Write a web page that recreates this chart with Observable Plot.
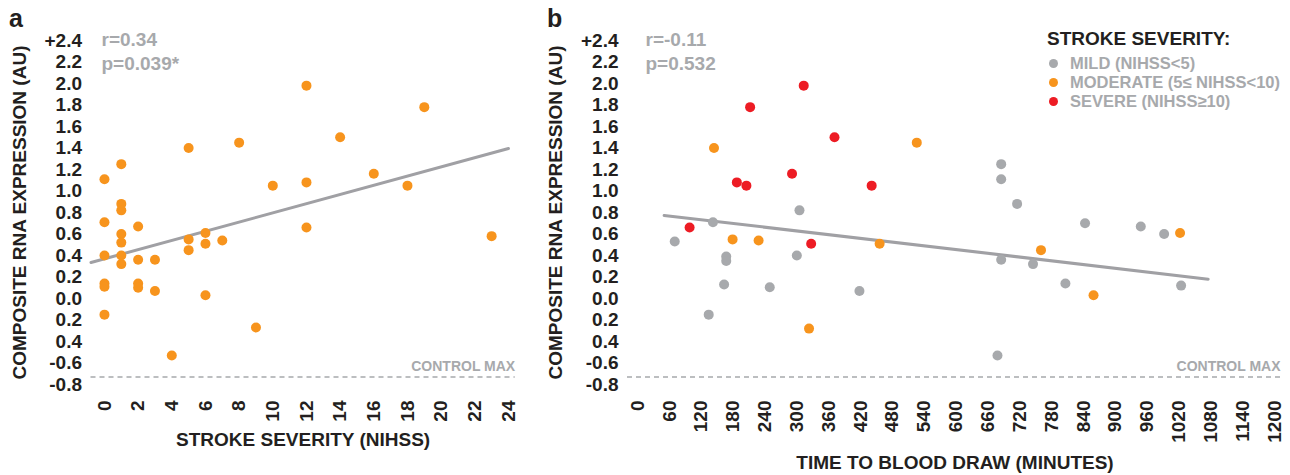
<!DOCTYPE html>
<html><head><meta charset="utf-8">
<script src="https://cdn.jsdelivr.net/npm/d3@7"></script>
<script src="https://cdn.jsdelivr.net/npm/@observablehq/plot@0.6"></script>
<style>
body{margin:0;background:#fff;font-family:"Liberation Sans",Arial,sans-serif;}
#wrap{position:relative;width:1290px;height:475px;overflow:hidden;}
#left{position:absolute;left:0;top:0;}
#right{position:absolute;left:545px;top:0;}
.letter{position:absolute;font-weight:bold;font-size:25px;line-height:1;color:#231F20;}
#legend{position:absolute;left:1047px;top:29px;font-weight:bold;color:#A7A9AC;}
#legend .ttl{font-size:19px;color:#231F20;line-height:20px;margin-bottom:5px;}
#legend .row{display:flex;align-items:center;font-size:16.5px;line-height:19px;height:19px;}
#legend .sw{width:9px;height:9px;border-radius:50%;margin-left:2px;margin-right:12px;}
</style></head><body>
<div id="wrap">
  <div id="left"></div>
  <div id="right"></div>
</div>
<script>
// ---------- shared y-axis ----------
const yTickValues = [-0.8,-0.6,-0.4,-0.2,0,0.2,0.4,0.6,0.8,1.0,1.2,1.4,1.6,1.8,2.0,2.2,2.4];
const yTickLabels = ["-0.8","-0.6","0.4","0.2","0.0","0.2","0.4","0.6","0.8","1.0","1.2","1.4","1.6","1.8","2.0","2.2","+2.4"];
const yTitle = "COMPOSITE RNA EXPRESSION (AU)";
const controlMax = -0.73;
const controlLabel = "CONTROL MAX";

// ---------- panel a ----------
const panelA = "a";
const xTicksA = [0,2,4,6,8,10,12,14,16,18,20,22,24];
const xTitleA = "STROKE SEVERITY (NIHSS)";
const nihss = [0,0,0,0,0,0, 1,1,1,1,1,1,1, 2,2,2,2, 3,3, 4, 5,5,5, 6,6,6, 7, 8, 9, 10, 12,12,12, 14, 16, 18, 19, 23];
const exprA = [1.11,0.71,0.40,0.14,0.11,-0.15, 1.25,0.88,0.82,0.60,0.52,0.40,0.32, 0.67,0.36,0.14,0.10, 0.36,0.07, -0.53, 1.40,0.55,0.45, 0.61,0.51,0.03, 0.54, 1.45, -0.27, 1.05, 1.98,1.08,0.66, 1.50, 1.16, 1.05, 1.78, 0.58];
const trendAx = [-0.8, 24];
const trendAy = [0.335, 1.395];
const statsA = ["r=0.34", "p=0.039*"];

// ---------- panel b ----------
const panelB = "b";
const xTicksB = [0,60,120,180,240,300,360,420,480,540,600,660,720,780,840,900,960,1020,1080,1140,1200];
const xTitleB = "TIME TO BLOOD DRAW (MINUTES)";
const minutes = [70,134,142,163,167,167,249,300,305,418,678,685,685,685,715,745,806,843,948,992,1024,
                 144,179,228,323,456,526,760,859,1022,
                 98,187,205,212,291,313,327,371,441];
const exprB = [0.53,-0.15,0.71,0.13,0.39,0.35,0.105,0.40,0.82,0.07,-0.53,1.25,1.11,0.36,0.88,0.32,0.14,0.70,0.67,0.60,0.12,
               1.40,0.55,0.54,-0.28,0.51,1.45,0.45,0.03,0.61,
               0.66,1.08,1.05,1.78,1.16,1.98,0.51,1.50,1.05];
const severity = [..."mmmmmmmmmmmmmmmmmmmmm"].map(()=>"MILD")
  .concat([..."ooooooooo"].map(()=>"MODERATE"))
  .concat([..."sssssssss"].map(()=>"SEVERE"));
const trendBx = [50, 1075];
const trendBy = [0.773, 0.18];
const statsB = ["r=-0.11", "p=0.532"];

// ---------- legend ----------
const legendTitle = "STROKE SEVERITY:";
const severityKeys = ["MILD","MODERATE","SEVERE"];
const severityLabels = ["MILD (NIHSS<5)","MODERATE (5\u2264 NIHSS<10)","SEVERE (NIHSS\u226510)"];
const severityColors = ["#A7A9AC","#F7941D","#ED1C24"];

const GREY_TXT = "#A7A9AC";
const LINE_GREY = "#A0A0A4";
const DASH_GREY = "#BCBEC0";

const yLabelMap = new Map(yTickValues.map((v,i)=>[v.toFixed(1), yTickLabels[i]]));
const baseStyle = {fontFamily:"'Liberation Sans', Arial, sans-serif", fontSize:"19px", fontWeight:"bold", color:"#231F20", background:"transparent", overflow:"visible"};

function yAxisOpts(offset){
  return {domain:[-0.8,2.4], ticks:yTickValues, tickFormat:d=>yLabelMap.get((+d).toFixed(1)),
          tickSize:0, tickPadding:9, label:yTitle, labelAnchor:"center", labelOffset:offset, labelArrow:"none"};
}

const rowsA = nihss.map((x,i)=>({x, y:exprA[i]}));
const trendA = trendAx.map((x,i)=>({x, y:trendAy[i]}));
const plotA = Plot.plot({
  width:545, height:475,
  marginLeft:90.5, marginRight:30.3, marginTop:40, marginBottom:91,
  style:baseStyle,
  x:{domain:[-0.8,24.4], ticks:xTicksA, tickFormat:d=>String(d), tickRotate:-90, tickSize:0, tickPadding:16,
     label:xTitleA, labelAnchor:"center", labelOffset:61, labelArrow:"none"},
  y:yAxisOpts(78.5),
  marks:[
    Plot.ruleY([controlMax], {stroke:DASH_GREY, strokeWidth:2, strokeDasharray:"5,4"}),
    Plot.text([controlMax], {y:d=>d, text:()=>controlLabel, frameAnchor:"right", textAnchor:"end", dy:-10, fill:GREY_TXT, fontSize:14}),
    Plot.line(trendA, {x:"x", y:"y", stroke:LINE_GREY, strokeWidth:3}),
    Plot.dot(rowsA, {x:"x", y:"y", r:5, fill:"#F7941D", stroke:null}),
    Plot.text([statsA.join("\n")], {text:d=>d, frameAnchor:"top-left", lineAnchor:"top", lineHeight:1.27, dx:10.5, dy:-12, fill:GREY_TXT, textAnchor:"start"})
  ]
});
document.getElementById("left").appendChild(plotA);

const rowsB = minutes.map((x,i)=>({x, y:exprB[i], s:severity[i]}));
const trendB = trendBx.map((x,i)=>({x, y:trendBy[i]}));
const plotB = Plot.plot({
  width:745, height:475,
  marginLeft:82, marginRight:8, marginTop:40, marginBottom:91,
  style:baseStyle,
  x:{domain:[-19,1215], ticks:xTicksB, tickFormat:d=>String(d), tickRotate:-90, tickSize:0, tickPadding:16,
     label:xTitleB, labelAnchor:"center", labelOffset:84, labelArrow:"none"},
  y:yAxisOpts(79),
  color:{domain:severityKeys, range:severityColors},
  marks:[
    Plot.ruleY([controlMax], {stroke:DASH_GREY, strokeWidth:2, strokeDasharray:"5,4"}),
    Plot.text([controlMax], {y:d=>d, text:()=>controlLabel, frameAnchor:"right", textAnchor:"end", dy:-10, dx:-2, fill:GREY_TXT, fontSize:14}),
    Plot.line(trendB, {x:"x", y:"y", stroke:LINE_GREY, strokeWidth:3}),
    Plot.dot(rowsB, {x:"x", y:"y", r:5, fill:"s", stroke:null}),
    Plot.text([statsB.join("\n")], {text:d=>d, frameAnchor:"top-left", lineAnchor:"top", lineHeight:1.27, dx:18, dy:-12, fill:GREY_TXT, textAnchor:"start"})
  ]
});
document.getElementById("right").appendChild(plotB);

// panel letters
const wrap = document.getElementById("wrap");
[[panelA, 9],[panelB, 547]].forEach(([t,l])=>{
  const d = document.createElement("div");
  d.className = "letter"; d.textContent = t;
  d.style.left = l + "px"; d.style.top = "6px";
  wrap.appendChild(d);
});

// legend
const lg = document.createElement("div");
lg.id = "legend";
const tt = document.createElement("div"); tt.className = "ttl"; tt.textContent = legendTitle; lg.appendChild(tt);
severityKeys.forEach((k,i)=>{
  const r = document.createElement("div"); r.className = "row";
  const sw = document.createElement("span"); sw.className = "sw"; sw.style.background = severityColors[i];
  const tx = document.createElement("span"); tx.textContent = severityLabels[i];
  r.appendChild(sw); r.appendChild(tx); lg.appendChild(r);
});
wrap.appendChild(lg);
</script>
</body></html>
